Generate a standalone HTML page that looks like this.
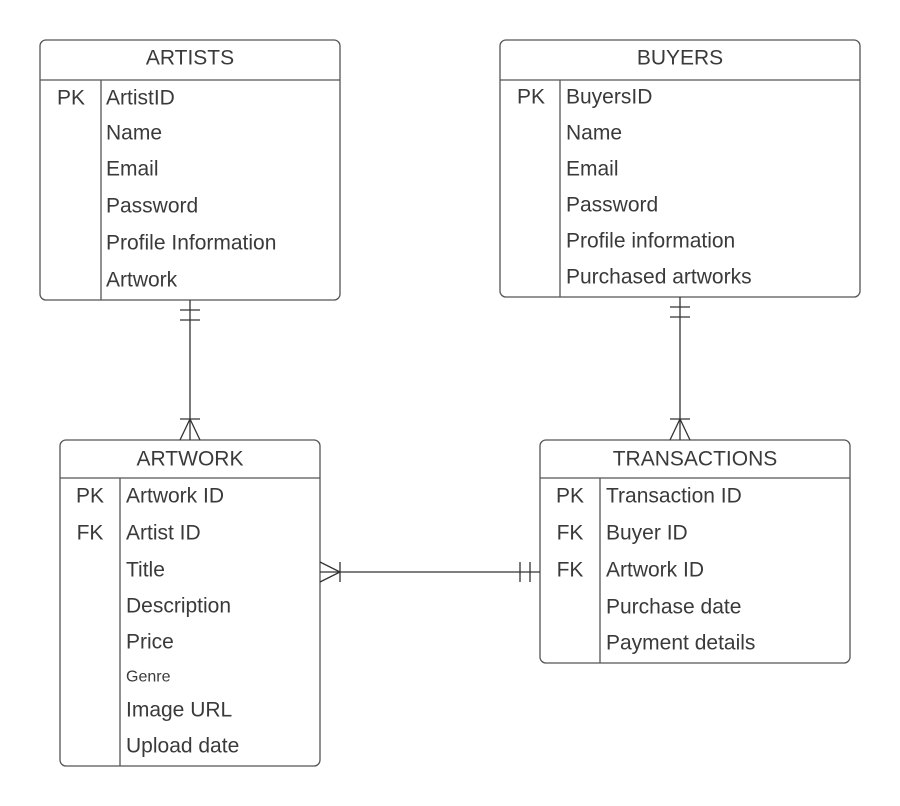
<!DOCTYPE html>
<html><head><style>body{margin:0;background:#fff}svg{display:block}text{font-family:"Liberation Sans",sans-serif;fill:#3a3a3a;dominant-baseline:central}</style></head><body>
<svg width="900" height="806" xmlns="http://www.w3.org/2000/svg">
<g fill="none" stroke="#555" stroke-width="1.3">
<rect x="40" y="40" width="300" height="260" rx="6"/><line x1="40" y1="80" x2="340" y2="80"/><line x1="101" y1="80" x2="101" y2="300"/>
<rect x="500" y="40" width="360" height="257" rx="6"/><line x1="500" y1="80" x2="860" y2="80"/><line x1="560" y1="80" x2="560" y2="297"/>
<rect x="60" y="440" width="260" height="326" rx="6"/><line x1="60" y1="478" x2="320" y2="478"/><line x1="120" y1="478" x2="120" y2="766"/>
<rect x="540" y="440" width="310" height="223" rx="6"/><line x1="540" y1="478" x2="850" y2="478"/><line x1="600" y1="478" x2="600" y2="663"/>
</g>
<g fill="none" stroke="#333" stroke-width="1.3">
<line x1="190" y1="300" x2="190" y2="440"/><line x1="180" y1="310" x2="200" y2="310"/><line x1="180" y1="320" x2="200" y2="320"/><line x1="180" y1="419" x2="200" y2="419"/><polyline points="180,440 190,419 200,440"/>
<line x1="680" y1="297" x2="680" y2="440"/><line x1="670" y1="307" x2="690" y2="307"/><line x1="670" y1="317" x2="690" y2="317"/><line x1="670" y1="419" x2="690" y2="419"/><polyline points="670,440 680,419 690,440"/>
<line x1="320" y1="572" x2="540" y2="572"/><line x1="340" y1="562" x2="340" y2="582"/><polyline points="320,562 340,572 320,582"/><line x1="520" y1="562" x2="520" y2="582"/><line x1="530" y1="562" x2="530" y2="582"/>
</g>
<g font-size="21">
<text x="190" y="58" text-anchor="middle">ARTISTS</text>
<text x="71" y="98" text-anchor="middle">PK</text>
<text x="106" y="98">ArtistID</text><text x="106" y="133">Name</text><text x="106" y="169">Email</text><text x="106" y="206">Password</text><text x="106" y="243">Profile Information</text><text x="106" y="280">Artwork</text>
<text x="680" y="58" text-anchor="middle">BUYERS</text>
<text x="531" y="97" text-anchor="middle">PK</text>
<text x="566" y="97">BuyersID</text><text x="566" y="133">Name</text><text x="566" y="169">Email</text><text x="566" y="205">Password</text><text x="566" y="241">Profile information</text><text x="566" y="277">Purchased artworks</text>
<text x="190" y="459" text-anchor="middle">ARTWORK</text>
<text x="90" y="496" text-anchor="middle">PK</text><text x="90" y="533" text-anchor="middle">FK</text>
<text x="126" y="496">Artwork ID</text><text x="126" y="533">Artist ID</text><text x="126" y="570">Title</text><text x="126" y="606">Description</text><text x="126" y="642">Price</text><text x="126" y="677" font-size="16">Genre</text><text x="126" y="710">Image URL</text><text x="126" y="746">Upload date</text>
<text x="695" y="459" text-anchor="middle">TRANSACTIONS</text>
<text x="570" y="496" text-anchor="middle">PK</text><text x="570" y="533" text-anchor="middle">FK</text><text x="570" y="570" text-anchor="middle">FK</text>
<text x="606" y="496">Transaction ID</text><text x="606" y="533">Buyer ID</text><text x="606" y="570">Artwork ID</text><text x="606" y="607">Purchase date</text><text x="606" y="643">Payment details</text>
</g>
</svg></body></html>
